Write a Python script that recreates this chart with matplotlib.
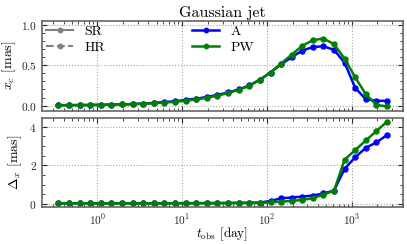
import matplotlib

matplotlib.use("Agg")
import matplotlib.pyplot as plt
from matplotlib.lines import Line2D
from matplotlib.ticker import AutoMinorLocator, LogLocator, NullFormatter

plt.rcParams.update({
    "font.family": "serif",
    "font.serif": ["cmr10"],
    "mathtext.fontset": "cm",
    "axes.formatter.use_mathtext": True,
    "axes.unicode_minus": False,
})

# observer time [day]
t_obs = [0.347, 0.462, 0.617, 0.822, 1.10, 1.46, 1.95, 2.60, 3.47, 4.62,
         6.17, 8.22, 11.0, 14.6, 19.5, 26.0, 34.7, 46.2, 61.7, 82.2,
         110, 146, 195, 260, 347, 462, 617, 822, 1096, 1462, 1950, 2600]

# centroid offset x_c [mas]
xc_A = [0.006, 0.007, 0.008, 0.009, 0.011, 0.013, 0.016, 0.020, 0.026, 0.034,
        0.044, 0.055, 0.070, 0.087, 0.107, 0.133, 0.163, 0.200, 0.250, 0.320,
        0.410, 0.510, 0.600, 0.680, 0.725, 0.735, 0.690, 0.530, 0.220, 0.080,
        0.060, 0.060]
xc_PW = [0.005, 0.006, 0.007, 0.008, 0.010, 0.012, 0.015, 0.019, 0.024, 0.030,
         0.038, 0.048, 0.062, 0.078, 0.098, 0.125, 0.155, 0.195, 0.245, 0.320,
         0.410, 0.520, 0.630, 0.740, 0.810, 0.830, 0.760, 0.580, 0.350, 0.140,
         0.010, -0.010]

# image size Delta_x [mas]
dx_A = [0.03, 0.03, 0.03, 0.03, 0.03, 0.03, 0.03, 0.03, 0.03, 0.03,
        0.03, 0.035, 0.04, 0.04, 0.045, 0.05, 0.05, 0.055, 0.06, 0.07,
        0.15, 0.29, 0.33, 0.38, 0.43, 0.54, 0.69, 1.82, 2.41, 2.90,
        3.18, 3.56]
dx_PW = [0.03, 0.03, 0.03, 0.03, 0.03, 0.03, 0.03, 0.03, 0.03, 0.03,
         0.03, 0.03, 0.03, 0.03, 0.03, 0.035, 0.04, 0.04, 0.045, 0.05,
         0.08, 0.12, 0.15, 0.21, 0.29, 0.48, 0.69, 2.29, 2.78, 3.28,
         3.77, 4.25]

fig = plt.figure(figsize=(4.07, 2.44), dpi=100)
ax1 = fig.add_axes([0.102, 0.547, 0.888, 0.368])
ax2 = fig.add_axes([0.102, 0.150, 0.888, 0.368], sharex=ax1)

kw = dict(marker="o", ms=3.6, lw=1.8)
ax1.plot(t_obs, xc_A, color="blue", **kw)
ax1.plot(t_obs, xc_PW, color="green", **kw)
ax2.plot(t_obs, dx_A, color="blue", **kw)
ax2.plot(t_obs, dx_PW, color="green", **kw)

ax1.set_xscale("log")
ax1.set_xlim(0.22, 4000)
ax1.set_ylim(-0.06, 1.05)
ax1.set_yticks([0.0, 0.5, 1.0])

for ax in (ax1, ax2):
    ax.grid(True, which="major", ls=":", color="0.65", lw=0.8)
    ax.tick_params(which="both", direction="in", top=True, right=True,
                   labelsize=8.2, colors="0.15")
    ax.tick_params(which="major", length=3.5, width=0.8)
    ax.tick_params(which="minor", length=2, width=0.6)
    ax.yaxis.set_minor_locator(AutoMinorLocator())
    ax.xaxis.set_major_locator(LogLocator(base=10, numticks=10))
    ax.xaxis.set_minor_locator(LogLocator(base=10, subs=range(2, 10), numticks=20))
    ax.xaxis.set_minor_formatter(NullFormatter())
    for sp in ax.spines.values():
        sp.set_color("0.4")
        sp.set_linewidth(1.2)

ax1.tick_params(labelbottom=False)
ax1.set_ylabel(r"$x_c$ [mas]", fontsize=10, labelpad=2)
ax2.set_ylabel(r"$\Delta_x$ [mas]", fontsize=10, labelpad=4)
ax2.set_xlabel(r"$t_{\rm obs}$ [day]", fontsize=9.5)
ax2.xaxis.set_label_coords(0.5, -0.2)
ax1.set_title("Gaussian jet", fontsize=11.5, pad=3)

leg_kw = dict(loc="upper left", frameon=False, fontsize=10, handlelength=2.0,
              handletextpad=0.8, borderpad=0.1, borderaxespad=0.2,
              labelspacing=0.25)
res_handles = [
    Line2D([], [], color="gray", marker="o", ms=3.2, lw=1.5, ls="-"),
    Line2D([], [], color="gray", marker="o", ms=3.2, lw=1.5, ls="--"),
]
leg1 = ax1.legend(res_handles, ["SR", "HR"], **leg_kw)
ax1.add_artist(leg1)
model_handles = [
    Line2D([], [], color="blue", marker="o", ms=3.2, lw=1.8),
    Line2D([], [], color="green", marker="o", ms=3.2, lw=1.8),
]
ax1.legend(model_handles, ["A", "PW"], bbox_to_anchor=(0.404, 1.0), **leg_kw)

fig.savefig("out.png", dpi=100)
